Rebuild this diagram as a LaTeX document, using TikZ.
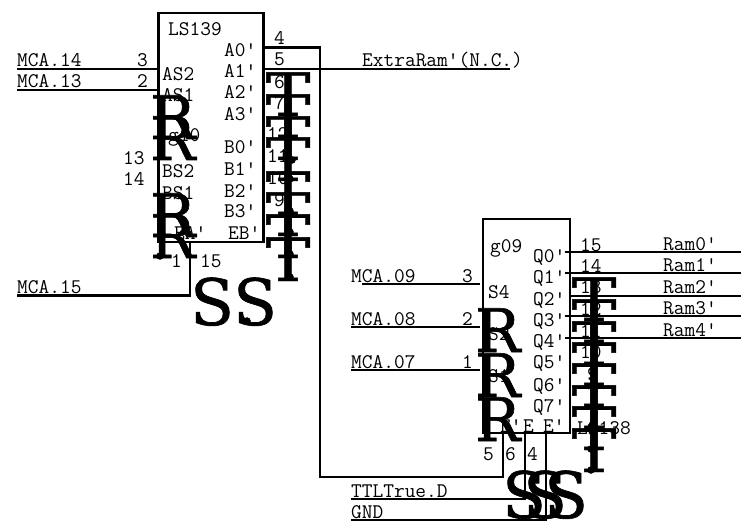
\documentclass[tikz,border=0pt]{standalone}
\usepackage{fontspec}
\newfontfamily\bigfont[FakeBold=1]{DejaVu Serif}
\newfontfamily\bigtfont[FakeStretch=1.12,FakeBold=0.8]{DejaVu Serif}
\tikzset{
  chip/.style={draw, line width=2.5pt, inner sep=0pt},
  wire/.style={line width=2.5pt},
  txt/.style={font=\fontsize{20.8}{20.8}\selectfont\ttfamily, inner sep=0pt, anchor=base west},
  bigt/.style={font=\fontsize{60}{60}\selectfont\bigtfont, inner sep=0pt, anchor=base},
  bigr/.style={font=\fontsize{60}{60}\selectfont\bigfont, inner sep=0pt, anchor=base west},
  bigs/.style={font=\fontsize{64}{64}\selectfont\bigfont, inner sep=0pt, anchor=base west},
}
\begin{document}
\begin{tikzpicture}[x=1pt,y=-1pt]
\useasboundingbox (0,0) rectangle (743,529);

% chips
\node[chip, minimum width=105pt, minimum height=229pt] (ls139) at (211,127.5) {};
\node[chip, minimum width=87pt, minimum height=214pt] (ls138) at (526.5,326) {};

% free wire ends
\coordinate (mca14) at (17,69);
\coordinate (mca13) at (17,90);
\coordinate (mca15) at (17,295.5);
\coordinate (en1) at (190,295.5);
\coordinate (a0) at (264,47.5);
\coordinate (a0up) at (320,47.5);
\coordinate (a0dn) at (320,477);
\coordinate (e1) at (503,477);
\coordinate (a1) at (264,69);
\coordinate (extra) at (510,69);
\coordinate (mca09) at (362,284);
\coordinate (mca08) at (351,327);
\coordinate (mca07) at (351,370);
\coordinate (ttl) at (351,499);
\coordinate (ttlup) at (525,499);
\coordinate (gnd) at (351,520);
\coordinate (gndup) at (546,520);
\coordinate (q0) at (565,252);
\coordinate (q1) at (565,273);
\coordinate (q2) at (570,296);
\coordinate (q3) at (565,316);
\coordinate (q4) at (565,338);
\coordinate (ram0) at (741,252);
\coordinate (ram1) at (741,273);
\coordinate (ram2) at (741,296);
\coordinate (ram3) at (741,316);
\coordinate (ram4) at (741,338);

% wires
\draw[wire] (mca14) -- (mca14 -| ls139.west);
\draw[wire] (mca13) -- (mca13 -| ls139.west);
\draw[wire] (mca15) -- (en1) -- (en1 |- ls139.south);
\draw[wire] (a0) -- (a0up) -- (a0dn) -- (e1) -- (e1 |- ls138.south);
\draw[wire] (a1) -- (extra);
\draw[wire] (mca09) -- (480,284);
\draw[wire] (mca08) -- (480,327);
\draw[wire] (mca07) -- (480,370);
\draw[wire] (ttl) -- (ttlup) -- (ttlup |- ls138.south);
\draw[wire] (gnd) -- (gndup) -- (gndup |- ls138.south);
\draw[wire] (q0) -- (ram0);
\draw[wire] (q1) -- (ram1);
\draw[wire] (q2) -- (ram2);
\draw[wire] (q3) -- (ram3);
\draw[wire] (q4) -- (ram4);

% texts of the first chip
\node[txt] (name1) at (168,36) {LS139};
\node[txt] (ta0) at (224,57) {A0'};
\node[txt] (ta1) at (224,78) {A1'};
\node[txt] (ta2) at (224,99) {A2'};
\node[txt] (ta3) at (224,121) {A3'};
\node[txt] (tb0) at (224,154) {B0'};
\node[txt] (tb1) at (224,176) {B1'};
\node[txt] (tb2) at (224,197) {B2'};
\node[txt] (tb3) at (224,218) {B3'};
\node[txt] (teb) at (228,240) {EB'};
\node[txt] (tea) at (174,240) {EA'};
\node[txt] (tas2) at (162,81) {AS2};
\node[txt] (tas1) at (162,102) {AS1};
\node[txt] (tg10) at (168,142) {g10};
\node[txt] (tbs2) at (162,178) {BS2};
\node[txt] (tbs1) at (162,200) {BS1};
\node[txt] (p3) at (137,67) {3};
\node[txt] (p2) at (137,88) {2};
\node[txt] (p13) at (123,165) {13};
\node[txt] (p14) at (123,186) {14};
\node[txt] (p1) at (171,267) {1};
\node[txt] (p15) at (200,267) {15};
\node[txt] (p4) at (274,45) {4};
\node[txt] (p5) at (274,66) {5};
\node[txt] (p6) at (274,89) {6};
\node[txt] (p7) at (274,110) {7};
\node[txt] (p12) at (267,141) {12};
\node[txt] (p11) at (267,163) {11};
\node[txt] (p10) at (267,185) {10};
\node[txt] (p9) at (274,207) {9};
\node[txt] (lmca14) at (17,67) {MCA.14};
\node[txt] (lmca13) at (17,88) {MCA.13};
\node[txt] (lmca15) at (17,293) {MCA.15};
\node[txt] (lextra) at (362,67) {ExtraRam'(N.C.)};

% texts of the second chip
\node[txt] (name2) at (490,252) {g09};
\node[txt] (name3) at (577,434) {LS138};
\node[txt] (tq0) at (533,262) {Q0'};
\node[txt] (tq1) at (533,283) {Q1'};
\node[txt] (tq2) at (533,305) {Q2'};
\node[txt] (tq3) at (533,326) {Q3'};
\node[txt] (tq4) at (533,347) {Q4'};
\node[txt] (tq5) at (533,368) {Q5'};
\node[txt] (tq6) at (533,391) {Q6'};
\node[txt] (tq7) at (533,412) {Q7'};
\node[txt] (ts4) at (488,298) {S4};
\node[txt] (ts2) at (488,340) {S2};
\node[txt] (ts1) at (488,382) {S1};
\node[txt] (te1) at (500,432) {E'};
\node[txt] (te2) at (523,432) {E};
\node[txt] (te3) at (543,432) {E'};
\node[txt] (r3) at (462,282) {3};
\node[txt] (r2) at (462,325) {2};
\node[txt] (r1) at (462,368) {1};
\node[txt] (r15) at (580,251) {15};
\node[txt] (r14) at (580,272) {14};
\node[txt] (r13) at (580,293) {13};
\node[txt] (r12) at (580,315) {12};
\node[txt] (r11) at (580,337) {11};
\node[txt] (r10) at (580,358) {10};
\node[txt] (r9) at (587,380) {9};
\node[txt] (r7) at (587,400) {7};
\node[txt] (r5) at (483,460) {5};
\node[txt] (r6) at (505,460) {6};
\node[txt] (r4) at (527,460) {4};
\node[txt] (lmca09) at (351,282) {MCA.09};
\node[txt] (lmca08) at (351,325) {MCA.08};
\node[txt] (lmca07) at (351,368) {MCA.07};
\node[txt] (lttl) at (351,497) {TTLTrue.D};
\node[txt] (lgnd) at (351,518) {GND};
\node[txt] (lram0) at (663,250) {Ram0'};
\node[txt] (lram1) at (663,271) {Ram1'};
\node[txt] (lram2) at (663,293) {Ram2'};
\node[txt] (lram3) at (663,314) {Ram3'};
\node[txt] (lram4) at (663,336) {Ram4'};

% big letters on the pins, first chip
\node[bigr] (ra) at (150,139) {R};
\node[bigr] (rb) at (150,160) {R};
\node[bigr] (rc) at (150,237) {R};
\node[bigr] (rd) at (150,258) {R};
\node[bigs] (sa) at (190,325) {S};
\node[bigs] (sb) at (233,325) {S};
\node[bigt] (ta) at (288,116) {T};
\node[bigt] (tb) at (288,138) {T};
\node[bigt] (tc) at (288,160) {T};
\node[bigt] (td) at (288,181) {T};
\node[bigt] (te) at (288,215) {T};
\node[bigt] (tf) at (288,236) {T};
\node[bigt] (tg) at (288,258) {T};
\node[bigt] (th) at (288,281) {T};

% big letters on the pins, second chip
\node[bigr] (re) at (475,352) {R};
\node[bigr] (rf) at (475,397) {R};
\node[bigr] (rg) at (475,441) {R};
\node[bigs] (sc) at (502,518) {S};
\node[bigs] (sd) at (523,518) {S};
\node[bigs] (se) at (544,518) {S};
\node[bigt] (ti) at (594,321) {T};
\node[bigt] (tj) at (594,343) {T};
\node[bigt] (tk) at (594,365) {T};
\node[bigt] (tl) at (594,386) {T};
\node[bigt] (tm) at (594,407) {T};
\node[bigt] (tn) at (594,429) {T};
\node[bigt] (tq) at (594,450) {T};
\node[bigt] (tp) at (594,472) {T};

% dots
\filldraw (292,160) circle (3.5pt);
\filldraw (290,179) circle (3.5pt);
\filldraw (290,211) circle (3.5pt);
\filldraw (290,232) circle (3.5pt);
\filldraw (290,254) circle (3.5pt);
\filldraw (290,277) circle (3.5pt);
\filldraw (160,235) circle (3.5pt);
\filldraw (160,256) circle (3.5pt);
\filldraw (247,321) circle (3.5pt);
\filldraw (591,427) circle (3.5pt);
\filldraw (591,449) circle (3.5pt);
\filldraw (591,470) circle (3.5pt);
\end{tikzpicture}
\end{document}
